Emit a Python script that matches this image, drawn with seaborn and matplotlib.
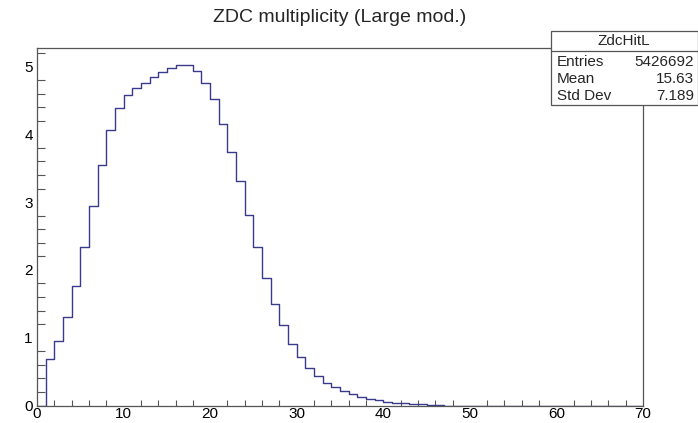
import numpy as np
import pandas as pd
import seaborn as sns
import matplotlib.pyplot as plt
from matplotlib.patches import Rectangle
from matplotlib.lines import Line2D
from matplotlib.ticker import MultipleLocator

sns.set_theme(style="white")
plt.rcParams['font.family'] = ['Liberation Sans', 'DejaVu Sans']

# bin contents, bins of width 1 from 0 to 70
bin_edges = list(range(0, 71))
counts = [0.0, 0.68, 0.95, 1.305, 1.77, 2.345, 2.95, 3.55, 4.06, 4.39,
          4.58, 4.69, 4.76, 4.84, 4.92, 4.975, 5.02, 5.02, 4.93, 4.76,
          4.52, 4.16, 3.74, 3.31, 2.81, 2.34, 1.887, 1.50, 1.19, 0.91,
          0.72, 0.557, 0.429, 0.335, 0.266, 0.212, 0.165, 0.13, 0.097, 0.077,
          0.056, 0.043, 0.033, 0.025, 0.019, 0.013, 0.008]
counts = counts + [0.0] * (70 - len(counts))

title = "ZDC multiplicity (Large mod.)"
stats_name = "ZdcHitL"
stats_rows = [("Entries", "5426692"), ("Mean", "15.63"), ("Std Dev", "7.189")]

df = pd.DataFrame({"x": np.array(bin_edges[:-1]) + 0.5, "w": counts})

fig = plt.figure(figsize=(6.98, 4.23), dpi=100)
ax = fig.add_axes([37 / 698, 1 - 405.5 / 423, 606 / 698, (405.5 - 48.3) / 423])

sns.histplot(data=df, x="x", weights="w", bins=bin_edges, element="step",
             fill=False, color="#3a3a8c", linewidth=1.0, ax=ax)

ax.set_xlim(0, 70)
ax.set_ylim(0, 5.27)
ax.set_xlabel("")
ax.set_ylabel("")
ax.xaxis.set_major_locator(MultipleLocator(10))
ax.xaxis.set_minor_locator(MultipleLocator(2))
ax.yaxis.set_major_locator(MultipleLocator(1))
ax.yaxis.set_minor_locator(MultipleLocator(0.2))
ax.tick_params(axis="x", which="major", direction="in", length=8, width=0.8,
               color="#555555", labelsize=11, pad=1, top=False)
ax.tick_params(axis="x", which="minor", direction="in", length=4, width=0.8,
               color="#555555", bottom=True, top=False)
ax.tick_params(axis="y", which="major", direction="in", length=13, width=0.8,
               color="#555555", labelsize=11, pad=3, right=False)
ax.tick_params(axis="y", which="minor", direction="in", length=6, width=0.8,
               color="#555555", left=True, right=False)
for sp in ax.spines.values():
    sp.set_visible(True)
    sp.set_color("#555555")
    sp.set_linewidth(0.9)
for t in ax.get_xticklabels() + ax.get_yticklabels():
    t.set_color("black")

fig.text(340 / 698, 1 - 18 / 423, title, ha="center", va="center", fontsize=14)

# statistics box in the top right corner
x0, x1 = 551 / 698, 697.5 / 698
y0, y1 = 1 - 105 / 423, 1 - 31 / 423
fig.patches.append(Rectangle((x0, y0), x1 - x0, y1 - y0, transform=fig.transFigure,
                             facecolor="white", edgecolor="#555555", linewidth=0.9,
                             zorder=5))
fig.lines.append(Line2D([x0, x1], [1 - 51 / 423] * 2, transform=fig.transFigure,
                        color="#555555", linewidth=0.9, zorder=6))
fig.text((x0 + x1) / 2, 1 - 41 / 423, stats_name, ha="center", va="center",
         fontsize=11, zorder=7)
for i, (lab, val) in enumerate(stats_rows):
    yy = 1 - (62 + 17 * i) / 423
    fig.text(557 / 698, yy, lab, ha="left", va="center", fontsize=11, zorder=7)
    fig.text(694 / 698, yy, val, ha="right", va="center", fontsize=11, zorder=7)

fig.savefig("out.png", dpi=100)
